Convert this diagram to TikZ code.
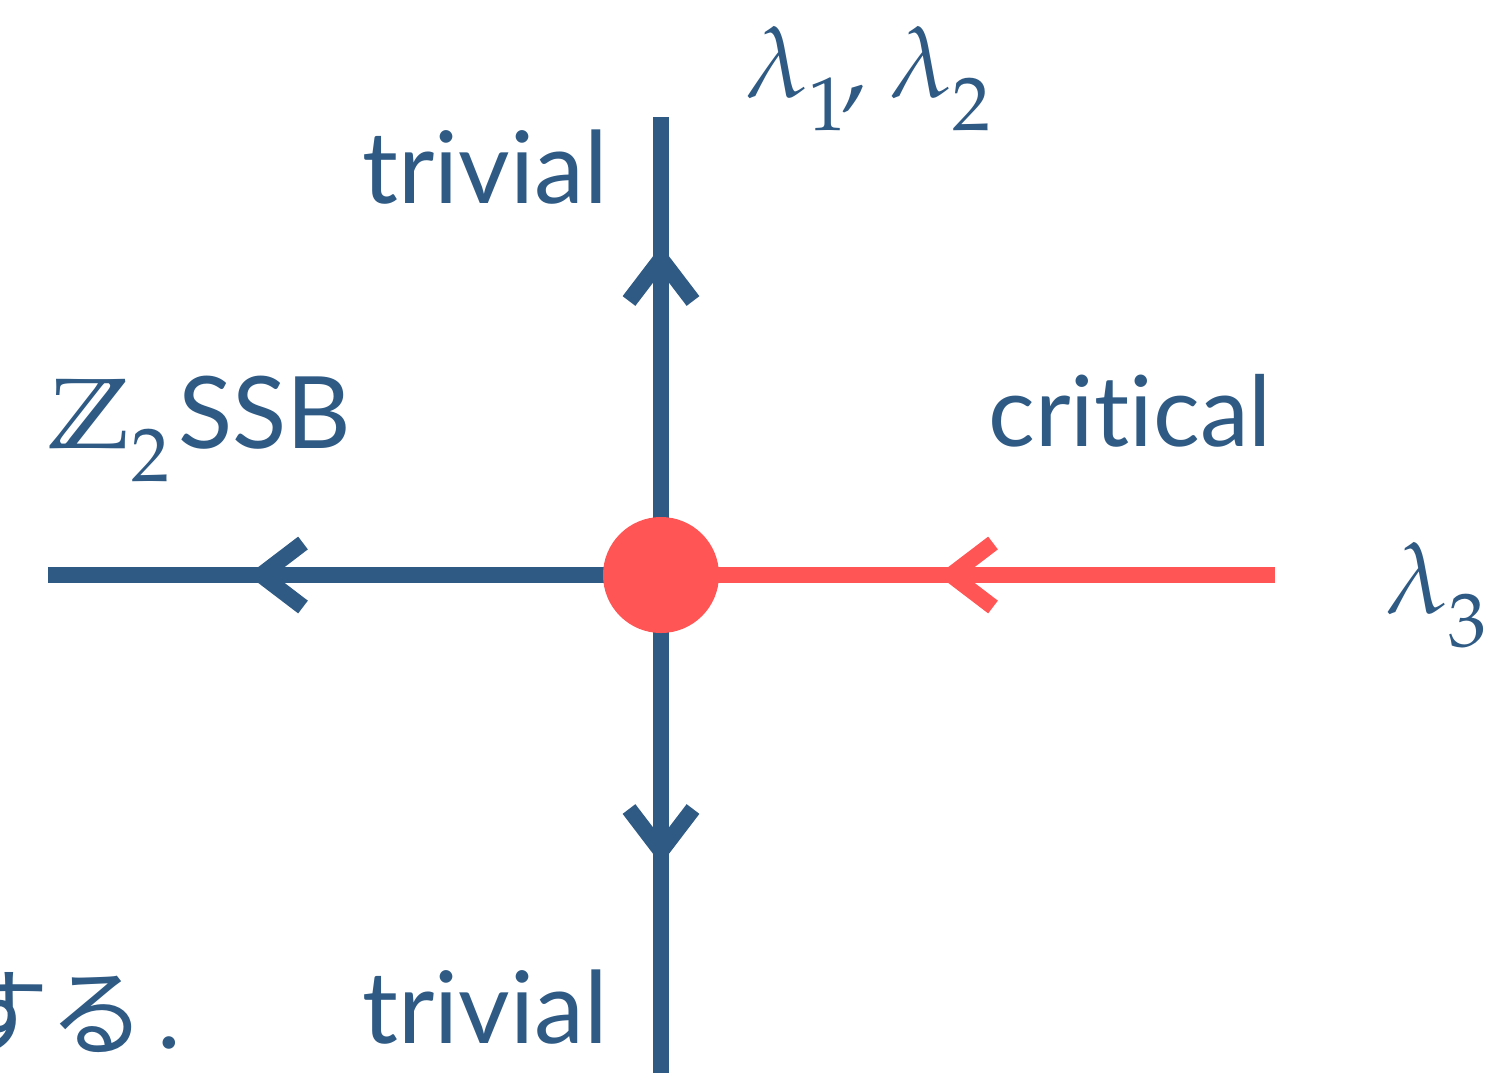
\documentclass[tikz,border=0pt]{standalone}
\usepackage{mathpazo}
\usepackage{amssymb}
\usepackage[no-math]{fontspec}
\setmainfont{Lato}[Ligatures=NoCommon]
\newfontfamily\cjk{Noto Sans CJK JP}
\DeclareMathSizes{50}{50}{38}{30}
\usetikzlibrary{decorations.markings}
\definecolor{fpblue}{HTML}{2E5A84}
\definecolor{fpred}{HTML}{FF5555}
\newcommand{\lsub}[1]{_{\raisebox{-9pt}{$\scriptstyle #1$}}}
\begin{document}
\begin{tikzpicture}[x=0.5pt,y=-0.5pt,
  flow/.style={line width=8pt,line cap=butt,draw=#1},
  midarrow/.style 2 args={postaction={decorate,decoration={markings,
     mark=at position #1 with {\draw[draw=#2,line width=8pt,line cap=butt,line join=miter,miter limit=10]
        (-21pt,-16pt) -- (0pt,0pt) -- (-21pt,16pt);}}}},
  lbl/.style={text=fpblue,inner sep=0pt,font=\fontsize{50}{60}\selectfont},
  dot/.style={circle,fill=fpred,minimum size=58pt,inner sep=0pt}]
\useasboundingbox (0,0) rectangle (1507,1072);
\coordinate (O) at (661,575);
\coordinate (top) at (661,117);
\coordinate (bot) at (661,1090);
\coordinate (left) at (48,575);
\coordinate (right) at (1275,575);
\draw[flow=fpblue,midarrow={158pt}{fpblue}] (O) -- (top);
\draw[flow=fpblue,midarrow={138pt}{fpblue}] (O) -- (bot);
\draw[flow=fpblue,midarrow={200pt}{fpblue}] (O) -- (left);
\draw[flow=fpred,midarrow={162pt}{fpred}] (right) -- (O);
\node[dot] (crit) at (O) {};
\node[lbl,anchor=base west] (ttop) at (362,203) {trivial};
\node[lbl,anchor=base west] (tbot) at (362,1043) {trivial};
\node[lbl,anchor=base west,font=\fontsize{49}{60}\selectfont] (crl) at (988,446) {critical};
\node[lbl,anchor=base west] (ssb) at (48,448) {$\mathbb{Z}\lsub{2}$\hspace{4pt}SSB};
\node[lbl,anchor=base west] (l12) at (745,97) {$\lambda\lsub{1}\mkern-1mu,\mkern1mu\lambda\lsub{2}$};
\node[lbl,anchor=base west] (l3) at (1385,613) {$\lambda\lsub{3}$};
\node[lbl,anchor=base east] (jp) at (181,1048) {{\cjk\fontsize{48}{50}\selectfont する}\hspace{6pt}.};
\end{tikzpicture}
\end{document}
